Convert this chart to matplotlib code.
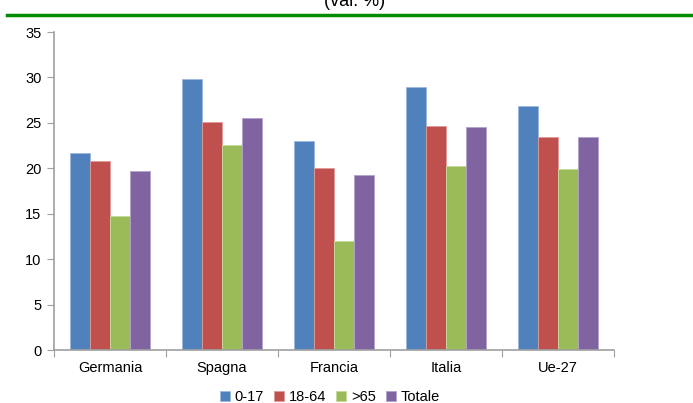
import numpy as np
import matplotlib.pyplot as plt

plt.rcParams['font.family'] = ['Liberation Sans', 'DejaVu Sans']

paesi = ['Germania', 'Spagna', 'Francia', 'Italia', 'Ue-27']
classi = ['0-17', '18-64', '>65', 'Totale']
eta_0_17 = [21.7, 29.8, 23.0, 28.9, 26.9]
eta_18_64 = [20.8, 25.1, 20.0, 24.7, 23.4]
eta_65 = [14.8, 22.6, 12.0, 20.3, 19.9]
totale = [19.7, 25.5, 19.3, 24.5, 23.4]

colori = ['#4F81BD', '#C0504D', '#9BBB59', '#8064A2']
bordi = ['#9DB9DE', '#E19A98', '#C5DA9C', '#B4A2CA']

fig = plt.figure(figsize=(6.93, 4.03), dpi=100)
ax = fig.add_axes([0.078, 0.1315, 0.808, 0.789])

x = np.arange(len(paesi)) + 0.5
w = 0.18
serie = [eta_0_17, eta_18_64, eta_65, totale]
for i, vals in enumerate(serie):
    ax.bar(x + (i - 1.5) * w, vals, w, color=colori[i], edgecolor=bordi[i],
           linewidth=0.6, label=classi[i])

ax.set_xlim(0, len(paesi))
ax.set_ylim(0, 35)
ax.set_yticks(range(0, 36, 5))
ax.set_xticks(range(len(paesi) + 1))
ax.set_xticklabels([])
ax.set_xticks(x, minor=True)
ax.set_xticklabels(paesi, minor=True)
ax.tick_params(axis='x', which='major', length=5, color='#A0A0A0', direction='out')
ax.tick_params(axis='x', which='minor', length=0, pad=8, labelsize=10.5)
ax.tick_params(axis='y', length=5, color='#A0A0A0', labelsize=10.5, pad=4)
for s in ['top', 'right']:
    ax.spines[s].set_visible(False)
for s in ['left', 'bottom']:
    ax.spines[s].set_color('#A0A0A0')
    ax.spines[s].set_linewidth(1.2)

# titolo tagliato in alto e linea verde
fig.text(0.512, 0.997, '(val. %)', ha='center', va='center', fontsize=13)
fig.add_artist(plt.Line2D([0.01, 1.0], [0.963, 0.963], color='#008A00', linewidth=2.5))

fig.legend(loc='lower center', bbox_to_anchor=(0.476, -0.035), ncol=4, frameon=False,
           handlelength=0.7, handleheight=0.7, handletextpad=0.3, columnspacing=0.7,
           fontsize=10.5)

fig.savefig('out.png', dpi=100)
